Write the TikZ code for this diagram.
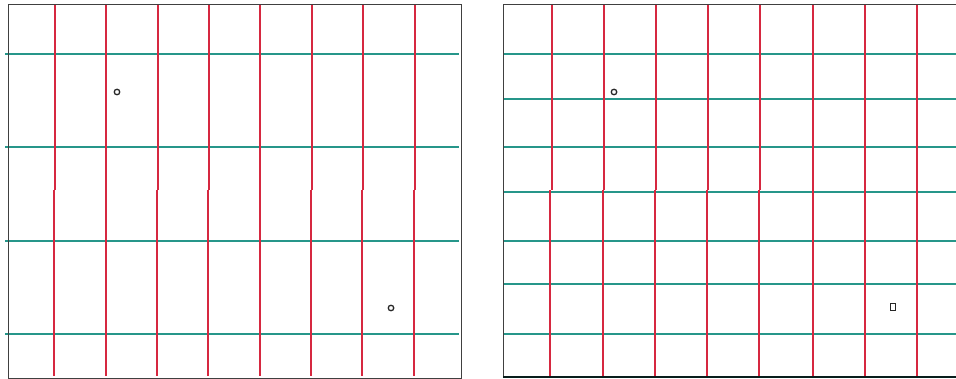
\documentclass[tikz,border=0pt]{standalone}
\usepackage{tikz}
\usetikzlibrary{positioning}

\definecolor{gridred}{RGB}{214,40,64}
\definecolor{gridteal}{RGB}{38,150,138}
\tikzset{
  redline/.style={gridred,line width=1.1pt},
  tealline/.style={gridteal,line width=1.2pt},
  panelframe/.style={black!75,line width=1pt},
  marker/.style={circle,draw=black!85,line width=1.3pt,inner sep=0pt,minimum size=5.5pt},
  sqmarker/.style={rectangle,draw=black!85,line width=1.3pt,inner sep=0pt,minimum width=5.5pt,minimum height=7pt}
}

\begin{document}
\begin{tikzpicture}[x=1pt,y=-1pt]
  \useasboundingbox (0,0) rectangle (956,379);
  % left panel
  \foreach \yy in {54,147,241,334}
    \draw[tealline] (5,\yy) -- (459,\yy);
  \foreach \xt/\xb in {55/54,106/106,158/157,209/208,260/260,312/311,363/362,415/414}{
    \draw[redline] (\xt,5) -- (\xt,190);
    \draw[redline] (\xb,190) -- (\xb,376);
  }
  \draw[panelframe] (8,5) rectangle (461,378);
  \node[marker] (pa) at (117,92) {};
  \node[marker] (pb) at (391,308) {};
  % right panel
  \foreach \yy in {54,99,147,192,241,284,334}
    \draw[tealline] (503,\yy) -- (956,\yy);
  \foreach \xt/\xb in {552/550,604/603,656/655,708/707,760/759,813/813,865/865,917/917}{
    \draw[redline] (\xt,5) -- (\xt,190);
    \draw[redline] (\xb,190) -- (\xb,377);
  }
  \draw[panelframe] (956,5) -- (503,5) -- (503,377);
  \draw[black!80!gridteal,line width=1.8pt] (503,377) -- (956,377);
  \node[marker] (qa) at (614,92) {};
  \node[sqmarker] (qb) at (893,307) {};
\end{tikzpicture}
\end{document}
